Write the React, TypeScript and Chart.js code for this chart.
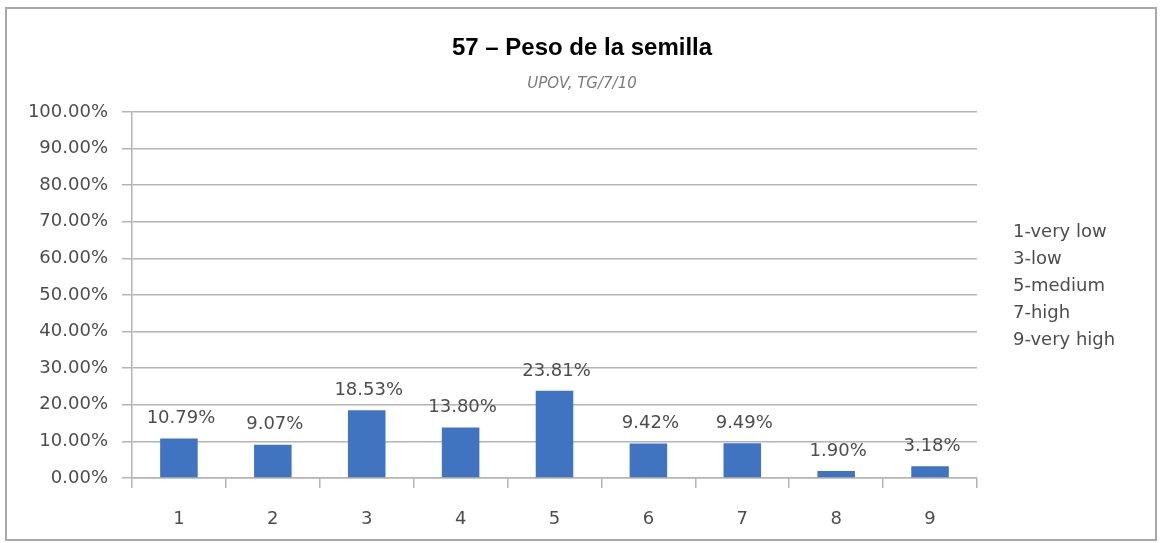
import React, { useEffect, useRef } from 'react';
import { Chart, registerables } from 'chart.js';

Chart.register(...registerables);

const categories = ['1', '2', '3', '4', '5', '6', '7', '8', '9'];
const values = [0.1079, 0.0907, 0.1853, 0.138, 0.2381, 0.0942, 0.0949, 0.019, 0.0318];
const valueLabels = ['10.79%', '9.07%', '18.53%', '13.80%', '23.81%', '9.42%', '9.49%', '1.90%', '3.18%'];
const noteLines = ['1-very low', '3-low', '5-medium', '7-high', '9-very high'];
const titleText = '57 – Peso de la semilla';
const subtitleText = 'UPOV, TG/7/10';
const yMin = 0;
const yMax = 1;
const yStep = 0.1;

const TEXT = '#4d4d4d';
const GRID = '#b4b4b4';
const BAR = '#4174c0';
const FONT = "'DejaVu Sans', sans-serif";

const decorPlugin = {
  id: 'decor',
  beforeDraw(chart: any) {
    const ctx = chart.ctx;
    ctx.save();
    ctx.fillStyle = '#ffffff';
    ctx.fillRect(0, 0, chart.width, chart.height);
    ctx.strokeStyle = '#a8a8a8';
    ctx.lineWidth = 2;
    ctx.strokeRect(6, 8, 1150, 532);
    ctx.restore();
  },
  afterDraw(chart: any) {
    const ctx = chart.ctx;
    ctx.save();
    ctx.textAlign = 'center';
    ctx.textBaseline = 'middle';
    ctx.fillStyle = '#000000';
    ctx.font = "bold 24px 'Liberation Sans', Arial, sans-serif";
    ctx.fillText(titleText, 582, 48);
    ctx.fillStyle = '#7a7a7a';
    ctx.font = `italic 15px ${FONT}`;
    ctx.fillText(subtitleText, 582, 84);

    // value labels
    ctx.fillStyle = TEXT;
    ctx.font = `18px ${FONT}`;
    const meta = chart.getDatasetMeta(0);
    meta.data.forEach((bar: any, i: number) => {
      ctx.fillText(valueLabels[i], bar.x + 2, bar.y - 20);
    });

    // side notes
    ctx.textAlign = 'left';
    ctx.font = `18px ${FONT}`;
    noteLines.forEach((t, i) => {
      ctx.fillText(t, 1013, 232 + i * 27);
    });
    ctx.restore();
  },
};

export default function App() {
  const ref = useRef<HTMLCanvasElement | null>(null);

  useEffect(() => {
    if (!ref.current) return;
    const chart = new Chart(ref.current, {
      type: 'bar',
      data: {
        labels: categories,
        datasets: [
          {
            data: values,
            backgroundColor: BAR,
            borderWidth: 0,
            barPercentage: 0.4,
            categoryPercentage: 1,
          },
        ],
      },
      options: {
        responsive: false,
        animation: false,
        devicePixelRatio: 1,
        layout: { padding: { top: 112, right: 187, left: 0, bottom: 0 } },
        plugins: {
          legend: { display: false },
          title: { display: false },
          tooltip: { enabled: false },
        },
        scales: {
          x: {
            grid: {
              display: true,
              drawOnChartArea: false,
              drawTicks: true,
              tickLength: 10,
              color: GRID,
              lineWidth: 1.5,
              offset: true,
            },
            border: { display: true, color: GRID, width: 1.5 },
            ticks: {
              color: TEXT,
              font: { family: FONT, size: 18 },
              padding: 21,
            },
            afterFit: (s: any) => {
              s.height = 65;
            },
          },
          y: {
            min: yMin,
            max: yMax,
            grid: {
              color: GRID,
              lineWidth: 1.5,
              tickLength: 10,
              drawTicks: true,
            },
            border: { display: true, color: GRID, width: 1.5 },
            ticks: {
              stepSize: yStep,
              color: TEXT,
              font: { family: FONT, size: 18 },
              padding: 14,
              callback: (v: any) => (Number(v) * 100).toFixed(2) + '%',
            },
            afterFit: (s: any) => {
              s.width = 132;
            },
          },
        },
      },
      plugins: [decorPlugin],
    });
    return () => chart.destroy();
  }, []);

  return (
    <div style={{ position: 'fixed', left: 0, top: 0, width: 1164, height: 543, background: '#fff' }}>
      <canvas ref={ref} width={1164} height={543} style={{ display: 'block', width: 1164, height: 543 }} />
    </div>
  );
}
